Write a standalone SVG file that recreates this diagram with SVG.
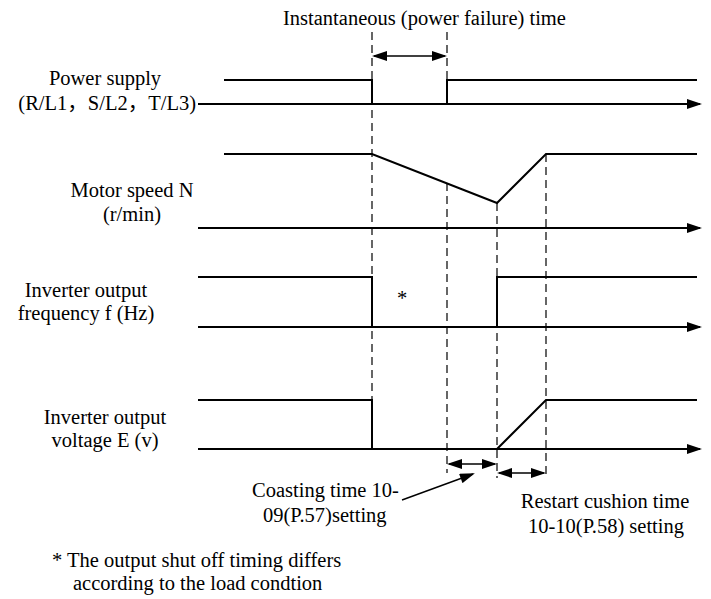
<svg xmlns="http://www.w3.org/2000/svg" width="711" height="599" viewBox="0 0 711 599">
<style>
text{font-family:"Liberation Serif","Times New Roman","Noto Sans CJK SC",serif;font-size:20.5px;fill:#000}
.m{text-anchor:middle}
.e{text-anchor:end}
.s{stroke:#000;stroke-width:2;fill:none}
.ax{stroke:#000;stroke-width:2.2;fill:none;marker-end:url(#ah)}
.d{stroke:#000;stroke-width:1.2;stroke-dasharray:8,5;fill:none}
.da{stroke:#000;stroke-width:1.6;fill:none;marker-start:url(#ah);marker-end:url(#ah)}
.pt{stroke:#000;stroke-width:1.4;fill:none;marker-end:url(#ah)}
</style>
<defs>
<marker id="ah" markerUnits="userSpaceOnUse" markerWidth="16" markerHeight="10" refX="13" refY="5" orient="auto-start-reverse" viewBox="0 0 15 10">
<path d="M0,0 L15,5 L0,10 z" fill="#000"/>
</marker>
</defs>
<rect width="711" height="599" fill="#fff"/>

<g id="guides">
<path class="d" d="M372,32 V400"/>
<path class="d" d="M447,32 V80"/>
<path class="d" d="M447,183 V473"/>
<path class="d" d="M497,203 V478"/>
<path class="d" d="M546,154 V478"/>
</g>

<g id="power-supply">
<text class="m" x="105" y="85">Power supply</text>
<text class="e" x="196" y="110">(R/L1，S/L2，T/L3)</text>
<path class="s" d="M224,80 H372 V104 M447,104 V80 H697"/>
<path class="ax" d="M198,104 H700"/>
</g>

<g id="motor-speed">
<text class="m" x="132" y="197">Motor speed N</text>
<text class="m" x="132" y="221">(r/min)</text>
<path class="s" d="M224,154 H372 L497,203 L546,154 H697"/>
<path class="ax" d="M198,228 H700"/>
</g>

<g id="output-frequency">
<text class="m" x="86" y="297">Inverter output</text>
<text class="m" x="86" y="320">frequency f (Hz)</text>
<text class="m" x="402" y="305">*</text>
<path class="s" d="M198,277 H372 V327 M497,327 V277 H697"/>
<path class="ax" d="M198,327 H700"/>
</g>

<g id="output-voltage">
<text class="m" x="105" y="424">Inverter output</text>
<text class="m" x="105" y="447">voltage E (v)</text>
<path class="s" d="M198,400 H372 V449 M497,449 L546,400 H697"/>
<path class="ax" d="M198,449 H700"/>
</g>

<g id="power-failure-time">
<text x="283" y="25">Instantaneous (power failure) time</text>
<path class="da" d="M374,56 H445"/>
</g>

<g id="coasting-time">
<text x="252" y="497">Coasting time 10-</text>
<text x="263" y="522">09(P.57)setting</text>
<path class="da" d="M449,464 H495"/>
<path class="pt" d="M402,500 L473,474"/>
</g>

<g id="restart-cushion-time">
<text class="m" x="605" y="508">Restart cushion time</text>
<text class="m" x="606" y="533">10-10(P.58) setting</text>
<path class="da" d="M499,473 H544"/>
</g>

<g id="footnote">
<text x="52" y="567">* The output shut off timing differs</text>
<text x="73" y="590">according to the load condtion</text>
</g>
</svg>
